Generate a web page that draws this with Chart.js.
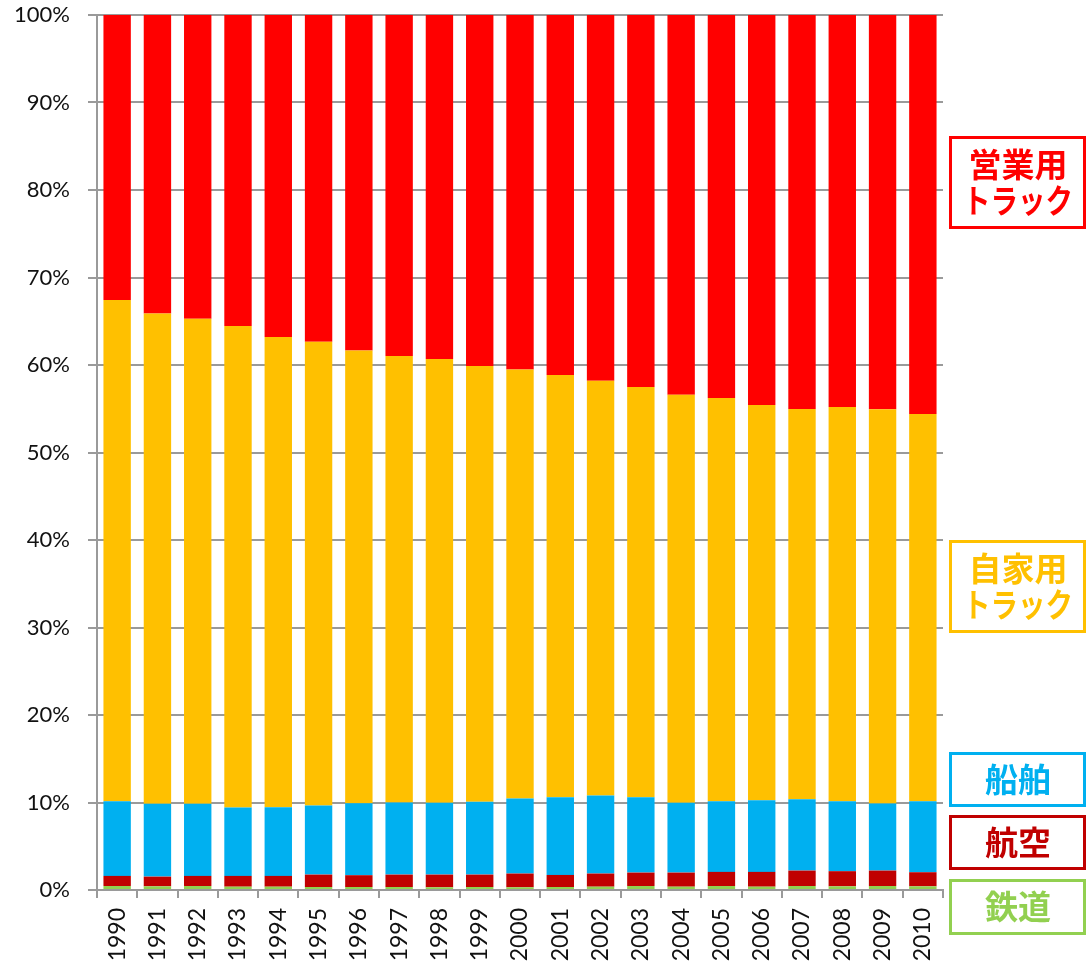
<!DOCTYPE html>
<html>
<head>
<meta charset="utf-8">
<script src="https://cdn.jsdelivr.net/npm/chart.js@4/dist/chart.umd.min.js"></script>
<style>
  body { margin: 0; background: #fff; }
</style>
</head>
<body>
<canvas id="myChart" width="1087" height="964"></canvas>
<script>
const years = ['1990', '1991', '1992', '1993', '1994', '1995', '1996', '1997', '1998', '1999', '2000',
               '2001', '2002', '2003', '2004', '2005', '2006', '2007', '2008', '2009', '2010'];

// shares in % of freight by mode, bottom of the stack first
const rail = [0.46, 0.42, 0.46, 0.38, 0.38, 0.34, 0.34, 0.34, 0.31, 0.34, 0.31,
              0.34, 0.38, 0.46, 0.38, 0.46, 0.38, 0.46, 0.42, 0.46, 0.42];
const air = [1.15, 1.11, 1.15, 1.23, 1.23, 1.42, 1.35, 1.42, 1.45, 1.42, 1.57,
             1.38, 1.50, 1.53, 1.61, 1.61, 1.69, 1.76, 1.73, 1.76, 1.61];
const ship = [8.54, 8.32, 8.24, 7.82, 7.85, 7.90, 8.23, 8.24, 8.20, 8.34, 8.58,
              8.88, 8.92, 8.61, 7.97, 8.08, 8.20, 8.16, 8.00, 7.67, 8.12];
const privateTruck = [57.28, 56.05, 55.45, 55.03, 53.74, 53.01, 51.75, 51.03, 50.73, 49.79, 49.04,
                      48.26, 47.40, 46.89, 46.64, 46.08, 45.16, 44.59, 45.05, 45.04, 44.25];
const commercialTruck = [32.57, 34.10, 34.70, 35.54, 36.80, 37.33, 38.33, 38.97, 39.31, 40.11, 40.50,
                         41.14, 41.80, 42.51, 43.40, 43.77, 44.57, 45.03, 44.80, 45.07, 45.60];

const yTicks = [0, 10, 20, 30, 40, 50, 60, 70, 80, 90, 100];

const modeNames = ['鉄道', '航空', '船舶', '自家用トラック', '営業用トラック'];
const modeColors = ['#92D050', '#C00000', '#00B0F0', '#FFC000', '#FF0000'];
const modeData = [rail, air, ship, privateTruck, commercialTruck];

// boxed labels on the right side: [lines, color index, box top, box bottom]
const sideLabels = [
    [['営業用', 'トラック'], 4, 137, 227],
    [['自家用', 'トラック'], 3, 541, 631],
    [['船舶'], 2, 753, 805],
    [['航空'], 1, 816, 868],
    [['鉄道'], 0, 880, 933],
];

const sideLabelPlugin = {
    id: 'sideLabels',
    afterDraw(chart) {
        const ctx = chart.ctx;
        ctx.save();
        sideLabels.forEach(([lines, ci, top, bottom]) => {
            const color = modeColors[ci];
            ctx.strokeStyle = color;
            ctx.lineWidth = 3;
            ctx.strokeRect(950.5, top + 0.5, 134, bottom - top);
            ctx.fillStyle = color;
            ctx.font = "bold 33px 'Noto Sans CJK JP'";
            ctx.textAlign = 'center';
            ctx.textBaseline = 'middle';
            const mid = (top + bottom) / 2;
            lines.forEach((text, i) => {
                const y = mid + (i - (lines.length - 1) / 2) * 36;
                ctx.fillText(text, 1018, y, 110);
            });
        });
        ctx.restore();
    }
};

const tickFont = "Lato, 'Liberation Sans', sans-serif";

const ctx = document.getElementById('myChart').getContext('2d');
const chart = new Chart(ctx, {
    type: 'bar',
    data: {
        labels: years,
        datasets: modeData.map((d, i) => ({
            label: modeNames[i],
            data: d,
            backgroundColor: modeColors[i],
            borderWidth: 0,
            categoryPercentage: 1,
            barPercentage: 0.68
        }))
    },
    options: {
        responsive: false,
        animation: false,
        layout: { padding: { top: 15, right: 144, left: 0, bottom: 0 } },
        plugins: {
            legend: { display: false },
            tooltip: { enabled: false }
        },
        scales: {
            x: {
                stacked: true,
                grid: {
                    drawOnChartArea: false,
                    drawTicks: true,
                    tickLength: 8,
                    color: '#9a9a9a',
                    lineWidth: 2
                },
                border: { color: '#9a9a9a', width: 2 },
                ticks: {
                    minRotation: 90,
                    maxRotation: 90,
                    padding: 10,
                    color: '#111',
                    font: { family: tickFont, size: 23 }
                },
                afterFit(scale) { scale.height = 74; }
            },
            y: {
                stacked: true,
                min: 0,
                max: 100,
                afterBuildTicks(scale) { scale.ticks = yTicks.map(v => ({ value: v })); },
                grid: {
                    color: '#9a9a9a',
                    lineWidth: 2,
                    tickLength: 9
                },
                border: { color: '#9a9a9a', width: 2 },
                ticks: {
                    padding: 18,
                    color: '#111',
                    font: { family: tickFont, size: 22 },
                    callback: v => v + '%'
                },
                afterFit(scale) {
                    scale.width = 97;
                    scale.paddingTop = 0;
                    scale.paddingBottom = 0;
                }
            }
        }
    },
    plugins: [sideLabelPlugin]
});
</script>
</body>
</html>
